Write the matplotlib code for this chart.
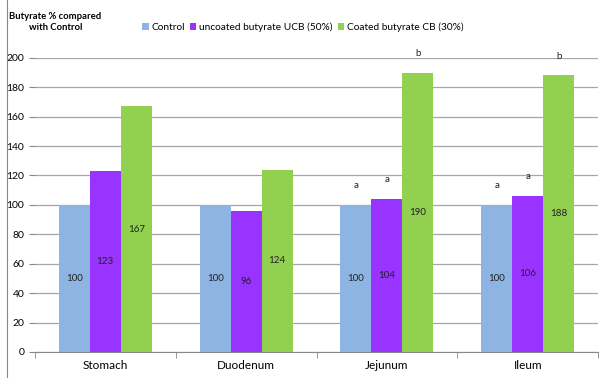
import numpy as np
import matplotlib.pyplot as plt
from matplotlib.lines import Line2D

plt.rcParams["font.family"] = ["Lato", "DejaVu Sans"]

# data
segments = ["Stomach", "Duodenum", "Jejunum", "Ileum"]
control = [100, 100, 100, 100]
ucb = [123, 96, 104, 106]
cb = [167, 124, 190, 188]
series_names = ["Control", "uncoated butyrate UCB (50%)", "Coated butyrate CB (30%)"]
colors = ["#8DB4E2", "#9933FF", "#92D050"]
# significance letters above bars (segment index, series index, letter)
sig_letters = [(2, 0, "a"), (2, 1, "a"), (2, 2, "b"),
               (3, 0, "a"), (3, 1, "a"), (3, 2, "b")]

fig = plt.figure(figsize=(6, 3.78), dpi=100)
ax = fig.add_axes([0.058, 0.069, 0.939, 0.778])

x = np.arange(len(segments))
w = 0.22
all_series = [control, ucb, cb]
for i, (vals, col) in enumerate(zip(all_series, colors)):
    xs = x + (i - 1) * w
    ax.bar(xs, vals, width=w, color=col, zorder=3, label=series_names[i])
    for xi, v in zip(xs, vals):
        ax.text(xi, v / 2, str(v), ha="center", va="center", fontsize=7,
                color="#222222", zorder=4)

for seg, s, letter in sig_letters:
    v = all_series[s][seg]
    ax.text(x[seg] + (s - 1) * w, v + 13, letter, ha="center", va="center",
            fontsize=7, color="#222222")

ax.set_ylim(0, 200)
ax.set_yticks(range(0, 201, 20))
ax.set_xlim(-0.5, len(segments) - 0.5)
ax.set_xticks(x)
ax.set_xticklabels(segments, fontsize=8.5)
ax.set_xticks(np.arange(-0.5, len(segments)), minor=True)
ax.tick_params(axis="x", which="major", length=0, pad=6)
ax.tick_params(axis="x", which="minor", length=4, color="#888888")
ax.tick_params(axis="y", labelsize=7.5, length=4, color="#888888")
ax.yaxis.grid(True, color="#A6A6A6", linewidth=0.9, zorder=0)
for side in ["top", "right", "left"]:
    ax.spines[side].set_visible(False)
ax.spines["bottom"].set_color("#888888")

fig.text(0.092, 0.942, "Butyrate % compared\nwith Control", ha="center",
         va="center", fontsize=6.8, fontweight="bold", linespacing=1.4)

fig.legend(loc="center", bbox_to_anchor=(0.505, 0.928), ncol=3, frameon=False,
           fontsize=7.3, handlelength=0.6, handleheight=0.6, handletextpad=0.3,
           columnspacing=0.5)

fig.add_artist(Line2D([0.012, 0.012], [0.0, 1.0], color="#888888",
                      linewidth=0.8, transform=fig.transFigure))

fig.savefig("out.png", dpi=100)
